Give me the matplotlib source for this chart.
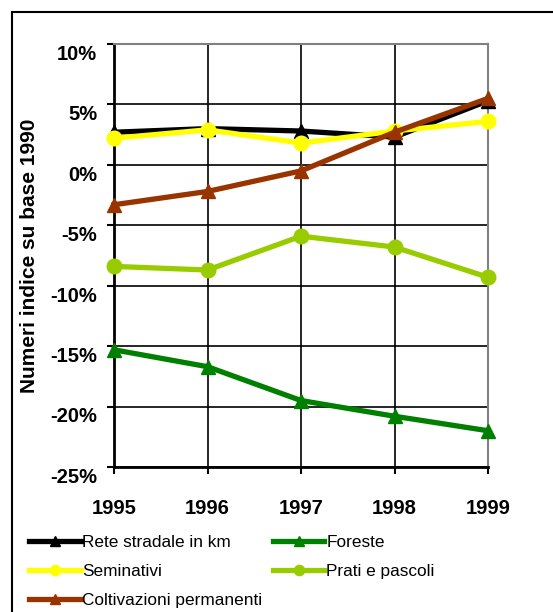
import numpy as np
import matplotlib.pyplot as plt
from matplotlib.patches import Rectangle
from matplotlib.transforms import ScaledTranslation

plt.rcParams['font.family'] = ['Liberation Sans', 'DejaVu Sans']

anni = [1995, 1996, 1997, 1998, 1999]

rete_stradale = [2.7, 3.0, 2.8, 2.3, 5.3]
foreste = [-15.3, -16.7, -19.5, -20.8, -22.0]
seminativi = [2.2, 2.9, 1.8, 2.8, 3.6]
prati_pascoli = [-8.4, -8.7, -5.9, -6.8, -9.3]
coltivazioni = [-3.3, -2.2, -0.5, 2.7, 5.5]

serie = [
    ("Rete stradale in km", rete_stradale, "#000000", "^"),
    ("Foreste", foreste, "#008000", "^"),
    ("Seminativi", seminativi, "#FFFF00", "o"),
    ("Prati e pascoli", prati_pascoli, "#99CC00", "o"),
    ("Coltivazioni permanenti", coltivazioni, "#993300", "^"),
]

fig = plt.figure(figsize=(5.53, 6.12), dpi=100)
ax = fig.add_axes([114/553, 1 - 467/612, (488 - 114)/553, (467 - 44)/612])

handles = {}
for i, (nome, valori, colore, marker) in enumerate(serie):
    h, = ax.plot(anni, valori, color=colore, lw=3.8, marker=marker,
                 markersize=10.5, zorder=3 + i, clip_on=False, label=nome)
    handles[nome] = h

ax.set_xlim(1995, 1999)
ax.set_ylim(-25, 10)
ax.set_xticks(anni)
ax.set_yticks(np.arange(-25, 11, 5))
ax.set_yticklabels([f"{v}%" for v in range(-25, 11, 5)])
ax.grid(True, color="black", lw=1.2)
ax.set_axisbelow(True)

for s in ["top", "right"]:
    ax.spines[s].set_color("#808080")
    ax.spines[s].set_linewidth(1.5)
ax.spines["left"].set_linewidth(2)
ax.spines["bottom"].set_linewidth(2)

ax.tick_params(axis="x", direction="out", length=5, width=1.5, pad=18, labelsize=14.5)
ax.tick_params(axis="y", direction="out", length=5, width=1.5, pad=7, labelsize=14.5)
for lab in ax.get_xticklabels() + ax.get_yticklabels():
    lab.set_fontweight("bold")
for lab in ax.get_yticklabels():
    lab.set_transform(lab.get_transform() + ScaledTranslation(0, -6/72, fig.dpi_scale_trans))

ax.set_ylabel("Numeri indice su base 1990", fontsize=15, fontweight="bold", labelpad=8)

ordine = ["Rete stradale in km", "Seminativi", "Coltivazioni permanenti", "Foreste", "Prati e pascoli"]
fig.legend([handles[n] for n in ordine], ordine, ncol=2, frameon=False,
           loc="upper left", bbox_to_anchor=(22/553, 1 - 528/612),
           fontsize=12.4, handlelength=3.0, handletextpad=0.1,
           columnspacing=0.6, labelspacing=0.82, markerscale=0.7,
           borderaxespad=0)

fig.add_artist(Rectangle((12/553, -0.1), 1.0, 1.1 - 12/612, transform=fig.transFigure,
                         fill=False, lw=1.5, edgecolor="black"))

fig.savefig("out.png", dpi=100)
